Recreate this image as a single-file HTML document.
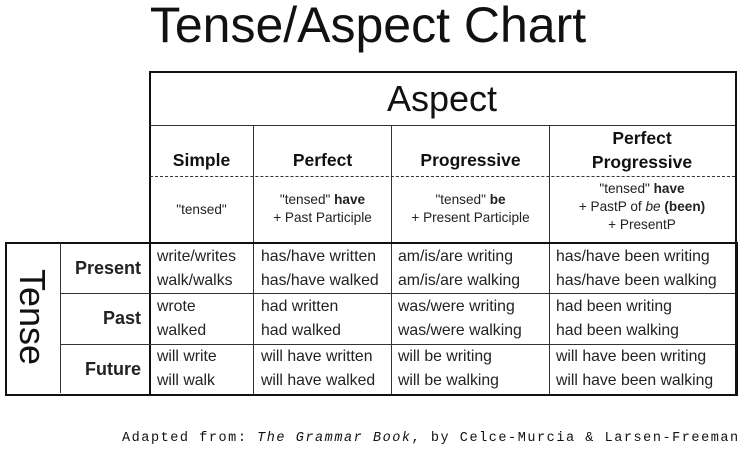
<!DOCTYPE html>
<html><head><style>
body{margin:0;width:740px;height:449px;background:#fff;position:relative;overflow:hidden;font-family:"Liberation Sans",sans-serif;color:#111}
div{position:absolute}
.h{height:0;border-top:1px solid #333}
.v{width:0;border-left:1px solid #333}
.t{white-space:nowrap}
.c{text-align:center}
.hd{font-weight:bold;font-size:17.5px;text-align:center}
.f{font-size:13.6px;text-align:center;line-height:18px;color:#222}
.d{font-size:15.8px;line-height:24px;color:#222;white-space:nowrap}
.r{font-weight:bold;font-size:18px;text-align:right;color:#222}
</style></head><body>
<div class="t c" style="left:0;width:736px;top:-4px;font-size:50px;line-height:58px">Tense/Aspect Chart</div>
<div style="left:149px;top:71px;width:584px;height:321px;border:2px solid #111;border-bottom:none"></div>
<div class="t c" style="left:151px;width:582px;top:78px;font-size:36px;line-height:42px">Aspect</div>
<div class="h" style="left:150px;top:125px;width:585px"></div>
<div style="left:150px;top:176px;width:585px;border-top:1px dashed #333"></div>
<div class="v" style="left:253px;top:125px;height:269px"></div>
<div class="v" style="left:391px;top:125px;height:269px"></div>
<div class="v" style="left:549px;top:125px;height:269px"></div>
<div style="left:5px;top:242px;width:729px;height:150px;border:2px solid #111"></div>
<div class="v" style="left:60px;top:243px;height:150px"></div>
<div class="h" style="left:60px;top:293px;width:675px"></div>
<div class="h" style="left:60px;top:344px;width:675px"></div>
<div class="t" style="left:-28px;top:297px;width:120px;text-align:center;font-size:36px;line-height:40px;transform:rotate(90deg)">Tense</div>
<div class="hd" style="left:150px;width:103px;top:150px">Simple</div>
<div class="hd" style="left:254px;width:137px;top:150px">Perfect</div>
<div class="hd" style="left:392px;width:157px;top:150px">Progressive</div>
<div class="hd" style="left:550px;width:184px;top:126px;line-height:24px">Perfect<br>Progressive</div>
<div class="f" style="left:150px;width:103px;top:201px">"tensed"</div>
<div class="f" style="left:254px;width:137px;top:191px">"tensed" <b>have</b><br>+ Past Participle</div>
<div class="f" style="left:392px;width:157px;top:191px">"tensed" <b>be</b><br>+ Present Participle</div>
<div class="f" style="left:550px;width:184px;top:180px">"tensed" <b>have</b><br>+ PastP of <i>be</i> <b>(been)</b><br>+ PresentP</div>
<div class="r" style="left:61px;width:80px;top:258px">Present</div>
<div class="r" style="left:61px;width:80px;top:308px">Past</div>
<div class="r" style="left:61px;width:80px;top:359px">Future</div>
<div class="d" style="left:157px;top:245px">write/writes<br>walk/walks</div>
<div class="d" style="left:261px;top:245px">has/have written<br>has/have walked</div>
<div class="d" style="left:398px;top:245px">am/is/are writing<br>am/is/are walking</div>
<div class="d" style="left:556px;top:245px">has/have been writing<br>has/have been walking</div>
<div class="d" style="left:157px;top:295px">wrote<br>walked</div>
<div class="d" style="left:261px;top:295px">had written<br>had walked</div>
<div class="d" style="left:398px;top:295px">was/were writing<br>was/were walking</div>
<div class="d" style="left:556px;top:295px">had been writing<br>had been walking</div>
<div class="d" style="left:157px;top:345px">will write<br>will walk</div>
<div class="d" style="left:261px;top:345px">will have written<br>will have walked</div>
<div class="d" style="left:398px;top:345px">will be writing<br>will be walking</div>
<div class="d" style="left:556px;top:345px">will have been writing<br>will have been walking</div>
<div class="t" style="left:122px;top:431px;font-family:'Liberation Mono',monospace;font-size:13.5px;letter-spacing:1.55px">Adapted from: <i>The Grammar Book</i>, by Celce-Murcia &amp; Larsen-Freeman</div>
</body></html>
